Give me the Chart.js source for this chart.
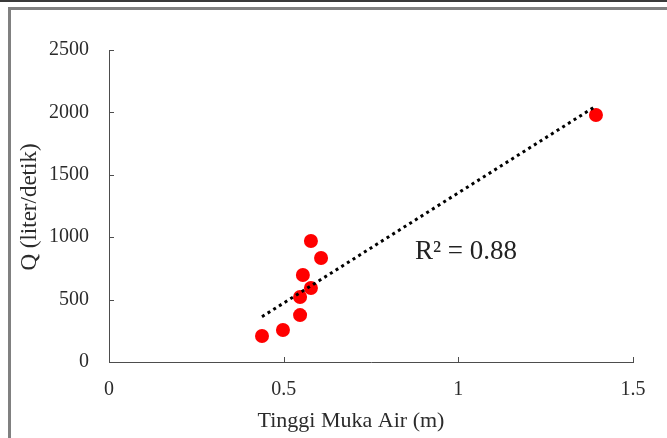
<!DOCTYPE html>
<html>
<head>
<meta charset="utf-8">
<script src="https://cdn.jsdelivr.net/npm/chart.js@4.4.1/dist/chart.umd.min.js"></script>
<style>
  html, body { margin: 0; padding: 0; background: #fff; }
  #wrap { width: 667px; height: 438px; }
</style>
</head>
<body>
<div id="wrap"><canvas id="chart" width="667" height="438"></canvas></div>
<script>
// data
const waterLevel = [0.438, 0.498, 0.547, 0.547, 0.555, 0.578, 0.578, 0.607, 1.394];
const discharge = [208, 256, 376, 521, 697, 593, 970, 833, 1979];
const trendX = [0.438, 1.394];
const trendY = [363, 2051];
const xTicks = [0, 0.5, 1, 1.5];
const yTicks = [0, 500, 1000, 1500, 2000, 2500];
const xTitle = "Tinggi Muka Air (m)";
const yTitle = "Q (liter/detik)";
const r2Text = "R² = 0.88";

const TEXT = "#2b2b2b";
const AXIS = "#4d4d4d";
const SERIF = "'Liberation Serif', serif";

// frame, inner tick marks, axis titles and R² label
const extrasPlugin = {
  id: "extras",
  beforeDraw(chart) {
    const ctx = chart.ctx;
    ctx.save();
    ctx.fillStyle = "#fff";
    ctx.fillRect(0, 0, chart.width, chart.height);
    ctx.fillStyle = "#3a3a3a";
    ctx.fillRect(0, 0, chart.width, 2);
    ctx.fillStyle = "#808080";
    ctx.fillRect(8, 7, 3, chart.height - 7);
    ctx.fillRect(8, 7, chart.width - 8, 3);
    ctx.restore();
  },
  afterDraw(chart) {
    const ctx = chart.ctx;
    const x = chart.scales.x;
    const y = chart.scales.y;
    const area = chart.chartArea;
    ctx.save();
    ctx.strokeStyle = AXIS;
    ctx.lineWidth = 1;
    ctx.beginPath();
    yTicks.forEach((v) => {
      const py = Math.round(y.getPixelForValue(v)) + 0.5;
      ctx.moveTo(area.left, py);
      ctx.lineTo(area.left + 5, py);
    });
    xTicks.forEach((v) => {
      const px = Math.round(x.getPixelForValue(v)) + 0.5;
      ctx.moveTo(px, area.bottom);
      ctx.lineTo(px, area.bottom - 5);
    });
    ctx.stroke();

    ctx.fillStyle = TEXT;
    ctx.font = "22px " + SERIF;
    ctx.textAlign = "center";
    ctx.textBaseline = "middle";
    ctx.fillText(xTitle, 351, 421);

    ctx.font = "23px " + SERIF;
    ctx.translate(30, 207);
    ctx.rotate(-Math.PI / 2);
    ctx.fillText(yTitle, 0, 0);
    ctx.setTransform(1, 0, 0, 1, 0, 0);

    ctx.font = "27px " + SERIF;
    ctx.textAlign = "left";
    ctx.textBaseline = "alphabetic";
    ctx.fillStyle = "#222";
    ctx.fillText(r2Text, x.getPixelForValue(0.876), y.getPixelForValue(826));
    ctx.restore();
  },
};

new Chart(document.getElementById("chart"), {
  type: "scatter",
  data: {
    datasets: [
      {
        type: "line",
        label: "Trend",
        data: trendX.map((v, i) => ({ x: v, y: trendY[i] })),
        borderColor: "#000",
        borderWidth: 3,
        borderDash: [3, 3.7],
        pointRadius: 0,
        fill: false,
        order: 0,
      },
      {
        label: "Q",
        data: waterLevel.map((v, i) => ({ x: v, y: discharge[i] })),
        backgroundColor: "#ff0000",
        borderColor: "#ff0000",
        pointRadius: 7,
        pointBorderWidth: 0,
        order: 1,
      },
    ],
  },
  options: {
    responsive: false,
    animation: false,
    layout: { padding: { top: 50, right: 34, left: 0, bottom: 0 } },
    plugins: {
      legend: { display: false },
      tooltip: { enabled: false },
    },
    scales: {
      x: {
        type: "linear",
        min: 0,
        max: 1.5,
        afterBuildTicks: (s) => { s.ticks = xTicks.map((v) => ({ value: v })); },
        afterFit: (s) => { s.height = 76; },
        grid: { display: false, drawTicks: false },
        border: { display: true, color: AXIS, width: 1 },
        ticks: {
          padding: 16,
          color: TEXT,
          font: { family: SERIF, size: 20 },
          maxRotation: 0,
          callback: (v) => String(v),
        },
      },
      y: {
        type: "linear",
        min: 0,
        max: 2500,
        afterBuildTicks: (s) => { s.ticks = yTicks.map((v) => ({ value: v })); },
        afterFit: (s) => { s.width = 109; },
        grid: { display: false, drawTicks: false },
        border: { display: true, color: AXIS, width: 1 },
        ticks: {
          padding: 20,
          color: TEXT,
          font: { family: SERIF, size: 20 },
          callback: (v) => String(v),
        },
      },
    },
  },
  plugins: [extrasPlugin],
});
</script>
</body>
</html>
